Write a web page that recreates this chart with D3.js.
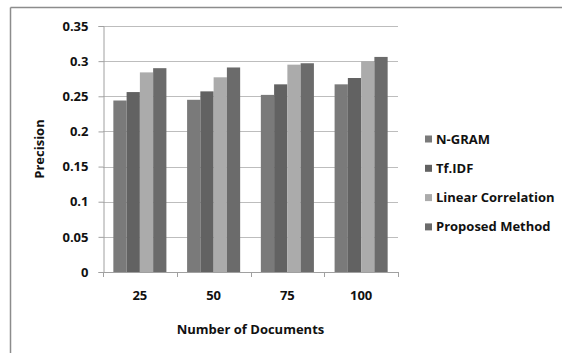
<!DOCTYPE html>
<html>
<head>
<meta charset="utf-8">
<script src="https://cdn.jsdelivr.net/npm/d3@7"></script>
<style>
  html, body { margin: 0; padding: 0; background: #fff; }
  svg { display: block; }
  text { font-family: "Open Sans", Lato, sans-serif; font-weight: bold; fill: #111; }
</style>
</head>
<body>
<svg id="chart" width="562" height="353"></svg>
<script>
const categories = ["25", "50", "75", "100"];
const seriesNames = ["N-GRAM", "Tf.IDF", "Linear Correlation", "Proposed Method"];
const ngram  = [0.244, 0.245, 0.252, 0.267];
const tfidf  = [0.256, 0.257, 0.267, 0.276];
const linear = [0.284, 0.277, 0.295, 0.300];
const proposed = [0.290, 0.291, 0.297, 0.306];
const yTicks = [0, 0.05, 0.1, 0.15, 0.2, 0.25, 0.3, 0.35];
const colors = ["#7a7a7a", "#626262", "#ababab", "#6b6b6b"];

const seriesValues = [ngram, tfidf, linear, proposed];

const svg = d3.select("#chart");
const pLeft = 103, pRight = 398, pTop = 26, pBottom = 272;
const FS = "13px";

// outer chart frame (only top/left visible)
svg.append("line").attr("x1", 10.5).attr("x2", 562).attr("y1", 7.5).attr("y2", 7.5)
  .attr("stroke", "#8c8c8c").attr("stroke-width", 1.5);
svg.append("line").attr("x1", 10.5).attr("x2", 10.5).attr("y1", 7.5).attr("y2", 353)
  .attr("stroke", "#8c8c8c").attr("stroke-width", 1.5);

const y = d3.scaleLinear().domain([0, 0.35]).range([pBottom, pTop]);
const x0 = d3.scaleBand().domain(categories).range([pLeft, pRight]).paddingInner(0).paddingOuter(0);
const x1 = d3.scaleBand().domain(seriesNames).range([0, x0.bandwidth()]).paddingInner(0).paddingOuter(0.78);

// gridlines
svg.append("g").selectAll("line").data(yTicks.filter(d => d > 0)).join("line")
  .attr("x1", pLeft).attr("x2", pRight)
  .attr("y1", d => Math.round(y(d)) + 0.5).attr("y2", d => Math.round(y(d)) + 0.5)
  .attr("stroke", "#bdbdbd").attr("stroke-width", 1);

// bars
const groups = svg.append("g").selectAll("g").data(categories).join("g")
  .attr("transform", d => `translate(${x0(d)},0)`);
groups.selectAll("rect")
  .data((c, i) => seriesNames.map((s, j) => ({ s, j, v: seriesValues[j][i] })))
  .join("rect")
  .attr("x", d => x1(d.s))
  .attr("width", x1.bandwidth())
  .attr("y", d => y(d.v))
  .attr("height", d => y(0) - y(d.v))
  .attr("fill", d => colors[d.j]);

// y axis
const yAxis = d3.axisLeft(y).tickValues(yTicks).tickSize(5).tickPadding(10)
  .tickFormat(d => d === 0 ? "0" : String(+d.toFixed(2)));
const gy = svg.append("g").attr("transform", `translate(${pLeft + 0.5},0)`).call(yAxis);
gy.select(".domain").attr("stroke", "#a0a0a0");
gy.selectAll(".tick line").attr("stroke", "#a0a0a0");
gy.selectAll(".tick text").style("font-size", FS).style("font-family", "'Open Sans', sans-serif").style("font-weight", "bold").attr("fill", "#111");

// x axis
const gx = svg.append("g").attr("transform", `translate(0,${pBottom + 0.5})`).call(
  d3.axisBottom(x0).tickSize(0).tickPadding(18));
gx.select(".domain").attr("stroke", "#a0a0a0").attr("d", `M${pLeft},0H${pRight}`);
gx.selectAll(".tick text").style("font-size", FS).style("font-family", "'Open Sans', sans-serif").style("font-weight", "bold").attr("fill", "#111");
// category separators
const seps = categories.map(c => x0(c)).concat([pRight]);
svg.append("g").selectAll("line").data(seps).join("line")
  .attr("x1", d => Math.round(d) + 0.5).attr("x2", d => Math.round(d) + 0.5)
  .attr("y1", pBottom).attr("y2", pBottom + 5)
  .attr("stroke", "#a0a0a0");

// axis titles
svg.append("text").attr("x", (pLeft + pRight) / 2).attr("y", 334)
  .attr("text-anchor", "middle").style("font-size", FS).text("Number of Documents");
svg.append("text").attr("transform", `translate(44,${(pTop + pBottom) / 2}) rotate(-90)`)
  .attr("text-anchor", "middle").style("font-size", FS).text("Precision");

// legend
const legend = svg.append("g").selectAll("g").data(seriesNames).join("g")
  .attr("transform", (d, i) => `translate(425,${139 + i * 29.3})`);
legend.append("rect").attr("x", 0).attr("y", -3.5).attr("width", 7).attr("height", 7)
  .attr("fill", (d, i) => colors[i]);
legend.append("text").attr("x", 11).attr("y", 0).attr("dy", "0.35em")
  .style("font-size", FS).text(d => d);
</script>
</body>
</html>
